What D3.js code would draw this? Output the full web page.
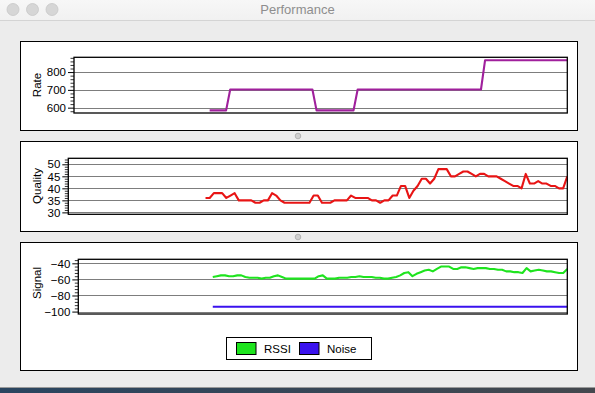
<!DOCTYPE html>
<html>
<head>
<meta charset="utf-8">
<script src="https://cdn.jsdelivr.net/npm/d3@7/dist/d3.min.js"></script>
<style>
  html, body { margin: 0; padding: 0; background: #ececec; }
  svg { display: block; font-family: "Liberation Sans", Arial, Helvetica, sans-serif; }
</style>
</head>
<body>
<svg id="chart" width="595" height="393"></svg>
<script>
// ---------------- data ----------------
const windowTitle = "Performance";
const windowLength = 120;   // samples shown in the time window
const firstSample = 33;     // index of the first recorded sample

const rateValues = [
  585, 585, 585, 585, 585,
  702, 702, 702, 702, 702, 702, 702, 702, 702, 702, 702, 702, 702, 702, 702, 702, 702, 702, 702, 702, 702,
  585, 585, 585, 585, 585, 585, 585, 585, 585, 585,
  702, 702, 702, 702, 702, 702, 702, 702, 702, 702, 702, 702, 702, 702, 702, 702, 702, 702, 702, 702, 702,
  702, 702, 702, 702, 702, 702, 702, 702, 702, 702,
  866.7, 866.7, 866.7, 866.7, 866.7, 866.7, 866.7, 866.7, 866.7, 866.7, 866.7, 866.7, 866.7, 866.7, 866.7,
  866.7, 866.7, 866.7, 866.7, 866.7, 866.7
];

const qualityValues = [
  36, 36, 38, 38, 38, 36, 37, 38, 35, 35, 35, 35, 34, 34, 35, 35, 38, 37, 35, 34,
  34, 34, 34, 34, 34, 34, 37, 37, 34, 34, 34, 35, 35, 35, 35, 37, 36, 36, 36, 36,
  35, 35, 34, 35, 35, 37, 37, 41, 41, 36, 39, 41, 44, 44, 42, 44, 48, 48, 48, 45,
  45, 46, 47, 47, 46, 45, 46, 46, 45, 45, 45, 44, 43, 42, 41, 41, 40, 46, 42, 42,
  43, 42, 42, 41, 41, 40, 40, 45
];

const rssiValues = [
  -57, -56, -55, -55, -56, -56, -55, -55, -57, -58, -58, -58, -59, -58, -58, -56, -55, -57, -59, -59,
  -59, -59, -59, -59, -59, -59, -56, -55, -59, -59, -59, -58, -58, -58, -57, -57, -56, -57, -57, -57,
  -58, -58, -59, -59, -58, -57, -55, -52, -51, -56, -53, -51, -49, -48, -50, -47, -44, -44, -44, -47,
  -47, -45, -45, -46, -47, -46, -46, -46, -47, -47, -48, -48, -50, -50, -51, -51, -52, -46, -50, -49,
  -48, -49, -50, -50, -51, -52, -52, -47
];

const noiseValues = [
  -94, -94, -94, -94, -94, -94, -94, -94, -94, -94, -94, -94, -94, -94, -94, -94, -94, -94, -94, -94,
  -94, -94, -94, -94, -94, -94, -94, -94, -94, -94, -94, -94, -94, -94, -94, -94, -94, -94, -94, -94,
  -94, -94, -94, -94, -94, -94, -94, -94, -94, -94, -94, -94, -94, -94, -94, -94, -94, -94, -94, -94,
  -94, -94, -94, -94, -94, -94, -94, -94, -94, -94, -94, -94, -94, -94, -94, -94, -94, -94, -94, -94,
  -94, -94, -94, -94, -94, -94, -94, -94
];

const rateTicks = [600, 700, 800];
const qualityTicks = [30, 35, 40, 45, 50];
const signalTicks = [-100, -80, -60, -40];
const legendLabels = ["RSSI", "Noise"];

// ---------------- drawing ----------------
const svg = d3.select("#chart");
const W = 595, H = 393;
const FONT = '"Liberation Sans", Arial, Helvetica, sans-serif';

// window chrome
svg.append("rect").attr("x", 0).attr("y", 0).attr("width", W).attr("height", H).attr("fill", "#ececec");
const defs = svg.append("defs");
const tbGrad = defs.append("linearGradient").attr("id", "tb").attr("x1", 0).attr("y1", 0).attr("x2", 0).attr("y2", 1);
tbGrad.append("stop").attr("offset", "0%").attr("stop-color", "#f7f7f7");
tbGrad.append("stop").attr("offset", "100%").attr("stop-color", "#f1f1f1");
svg.append("rect").attr("x", 0).attr("y", 0).attr("width", W).attr("height", 20).attr("fill", "url(#tb)");
svg.append("line").attr("x1", 0).attr("x2", W).attr("y1", 20.5).attr("y2", 20.5).attr("stroke", "#d4d4d4");
[13, 32.5, 52].forEach(cx => {
  svg.append("circle").attr("cx", cx).attr("cy", 9.5).attr("r", 6)
    .attr("fill", "#d6d6d6").attr("stroke", "#c6c6c6").attr("stroke-width", 0.8);
});
svg.append("text").attr("x", 297.5).attr("y", 14).attr("text-anchor", "middle")
  .attr("font-size", 13).attr("fill", "#8e8e8e").text(windowTitle);

// bottom desktop strip
const bGrad = defs.append("linearGradient").attr("id", "bg2").attr("x1", 0).attr("y1", 0).attr("x2", 1).attr("y2", 0);
bGrad.append("stop").attr("offset", "0%").attr("stop-color", "#2a4560");
bGrad.append("stop").attr("offset", "100%").attr("stop-color", "#44484e");
svg.append("rect").attr("x", 0).attr("y", 388).attr("width", W).attr("height", 5).attr("fill", "url(#bg2)");
svg.append("line").attr("x1", 0).attr("x2", W).attr("y1", 387.5).attr("y2", 387.5).attr("stroke", "#9a9a9a");

// panels
const panels = [
  { x: 20.5, y: 41.5, w: 557, h: 89 },
  { x: 20.5, y: 141.5, w: 557, h: 90 },
  { x: 20.5, y: 242.5, w: 557, h: 128 }
];
panels.forEach(p => {
  svg.append("rect").attr("x", p.x).attr("y", p.y).attr("width", p.w).attr("height", p.h)
    .attr("fill", "#ffffff").attr("stroke", "#000").attr("stroke-width", 1);
});

// splitter handles
[136, 237].forEach(cy => {
  svg.append("circle").attr("cx", 298).attr("cy", cy).attr("r", 2.8)
    .attr("fill", "#cfcfcf").attr("stroke", "#a9a9a9").attr("stroke-width", 0.8);
});

const charts = [
  {
    title: "Rate", left: 74, right: 567.3, top: 57.3, bottom: 113, domain: [570, 883],
    ticks: rateTicks, minorStep: 20, minorFrom: 580, minorTo: 880, titleY: 85,
    series: [{ values: rateValues, color: "#a0209c" }]
  },
  {
    title: "Quality", left: 68.3, right: 567.3, top: 158.3, bottom: 214.3, domain: [29.2, 52.5],
    ticks: qualityTicks, minorStep: 1, minorFrom: 30, minorTo: 52, titleY: 186,
    series: [{ values: qualityValues, color: "#e81414" }]
  },
  {
    title: "Signal", left: 78.3, right: 567.3, top: 259.3, bottom: 314, domain: [-103, -35],
    ticks: signalTicks, minorStep: 4, minorFrom: -100, minorTo: -36, titleY: 283,
    series: [
      { values: noiseValues, color: "#3a12ee" },
      { values: rssiValues, color: "#1ee41e" }
    ]
  }
];

charts.forEach((c, ci) => {
  const x = d3.scaleLinear().domain([0, windowLength]).range([c.left, c.right]);
  const y = d3.scaleLinear().domain(c.domain).range([c.bottom, c.top]);
  const g = svg.append("g");

  // grid
  g.append("g").selectAll("line").data(c.ticks).join("line")
    .attr("x1", c.left).attr("x2", c.right)
    .attr("y1", d => Math.round(y(d)) + 0.5).attr("y2", d => Math.round(y(d)) + 0.5)
    .attr("stroke", "#7d7d7d").attr("stroke-width", 1);

  // minor ticks
  const minors = [];
  for (let v = c.minorFrom; v <= c.minorTo + 1e-9; v += c.minorStep) {
    if (!c.ticks.includes(v) && v >= c.domain[0] && v <= c.domain[1]) minors.push(v);
  }
  const minorAxis = d3.axisLeft(y).tickValues(minors).tickSize(3.5).tickFormat("");
  const mg = g.append("g").attr("transform", `translate(${c.left},0)`).call(minorAxis);
  mg.select(".domain").remove();
  mg.selectAll("line").attr("stroke", "#000").attr("stroke-width", 0.8);

  // major ticks
  const majorAxis = d3.axisLeft(y).tickValues(c.ticks).tickSize(6).tickPadding(2).tickFormat(d3.format("d"));
  const ag = g.append("g").attr("transform", `translate(${c.left},0)`).call(majorAxis);
  ag.select(".domain").remove();
  ag.selectAll("line").attr("stroke", "#000").attr("stroke-width", 1);
  ag.selectAll("text").attr("font-size", 11.5).attr("fill", "#000").attr("font-family", FONT);

  // clip & lines
  const clipId = "clip" + ci;
  defs.append("clipPath").attr("id", clipId)
    .append("rect").attr("x", c.left).attr("y", c.top).attr("width", c.right - c.left).attr("height", c.bottom - c.top);
  c.series.forEach(s => {
    const line = d3.line().x((d, i) => x(firstSample + i)).y(d => y(d));
    g.append("path").datum(s.values).attr("d", line)
      .attr("fill", "none").attr("stroke", s.color).attr("stroke-width", 2.1)
      .attr("stroke-linejoin", "round").attr("clip-path", `url(#${clipId})`);
  });

  // frame
  g.append("rect").attr("x", c.left).attr("y", c.top).attr("width", c.right - c.left).attr("height", c.bottom - c.top)
    .attr("fill", "none").attr("stroke", "#000").attr("stroke-width", 1.3);

  // axis title
  g.append("text").attr("transform", `translate(40.5,${c.titleY}) rotate(-90)`)
    .attr("text-anchor", "middle").attr("font-size", 11.5).attr("fill", "#000").text(c.title);
});

// legend
const legend = svg.append("g");
legend.append("rect").attr("x", 226.5).attr("y", 337.5).attr("width", 145).attr("height", 22)
  .attr("fill", "#fff").attr("stroke", "#000").attr("stroke-width", 1);
const legendColors = ["#1ee41e", "#3a12ee"];
const legendX = [236.5, 299.5];
legendLabels.forEach((lab, i) => {
  legend.append("rect").attr("x", legendX[i]).attr("y", 342.5).attr("width", 19.5).attr("height", 12)
    .attr("fill", legendColors[i]).attr("stroke", "#000").attr("stroke-width", 1);
  legend.append("text").attr("x", legendX[i] + 27.5).attr("y", 352.5).attr("font-size", 11.5)
    .attr("fill", "#000").text(lab);
});
</script>
</body>
</html>
